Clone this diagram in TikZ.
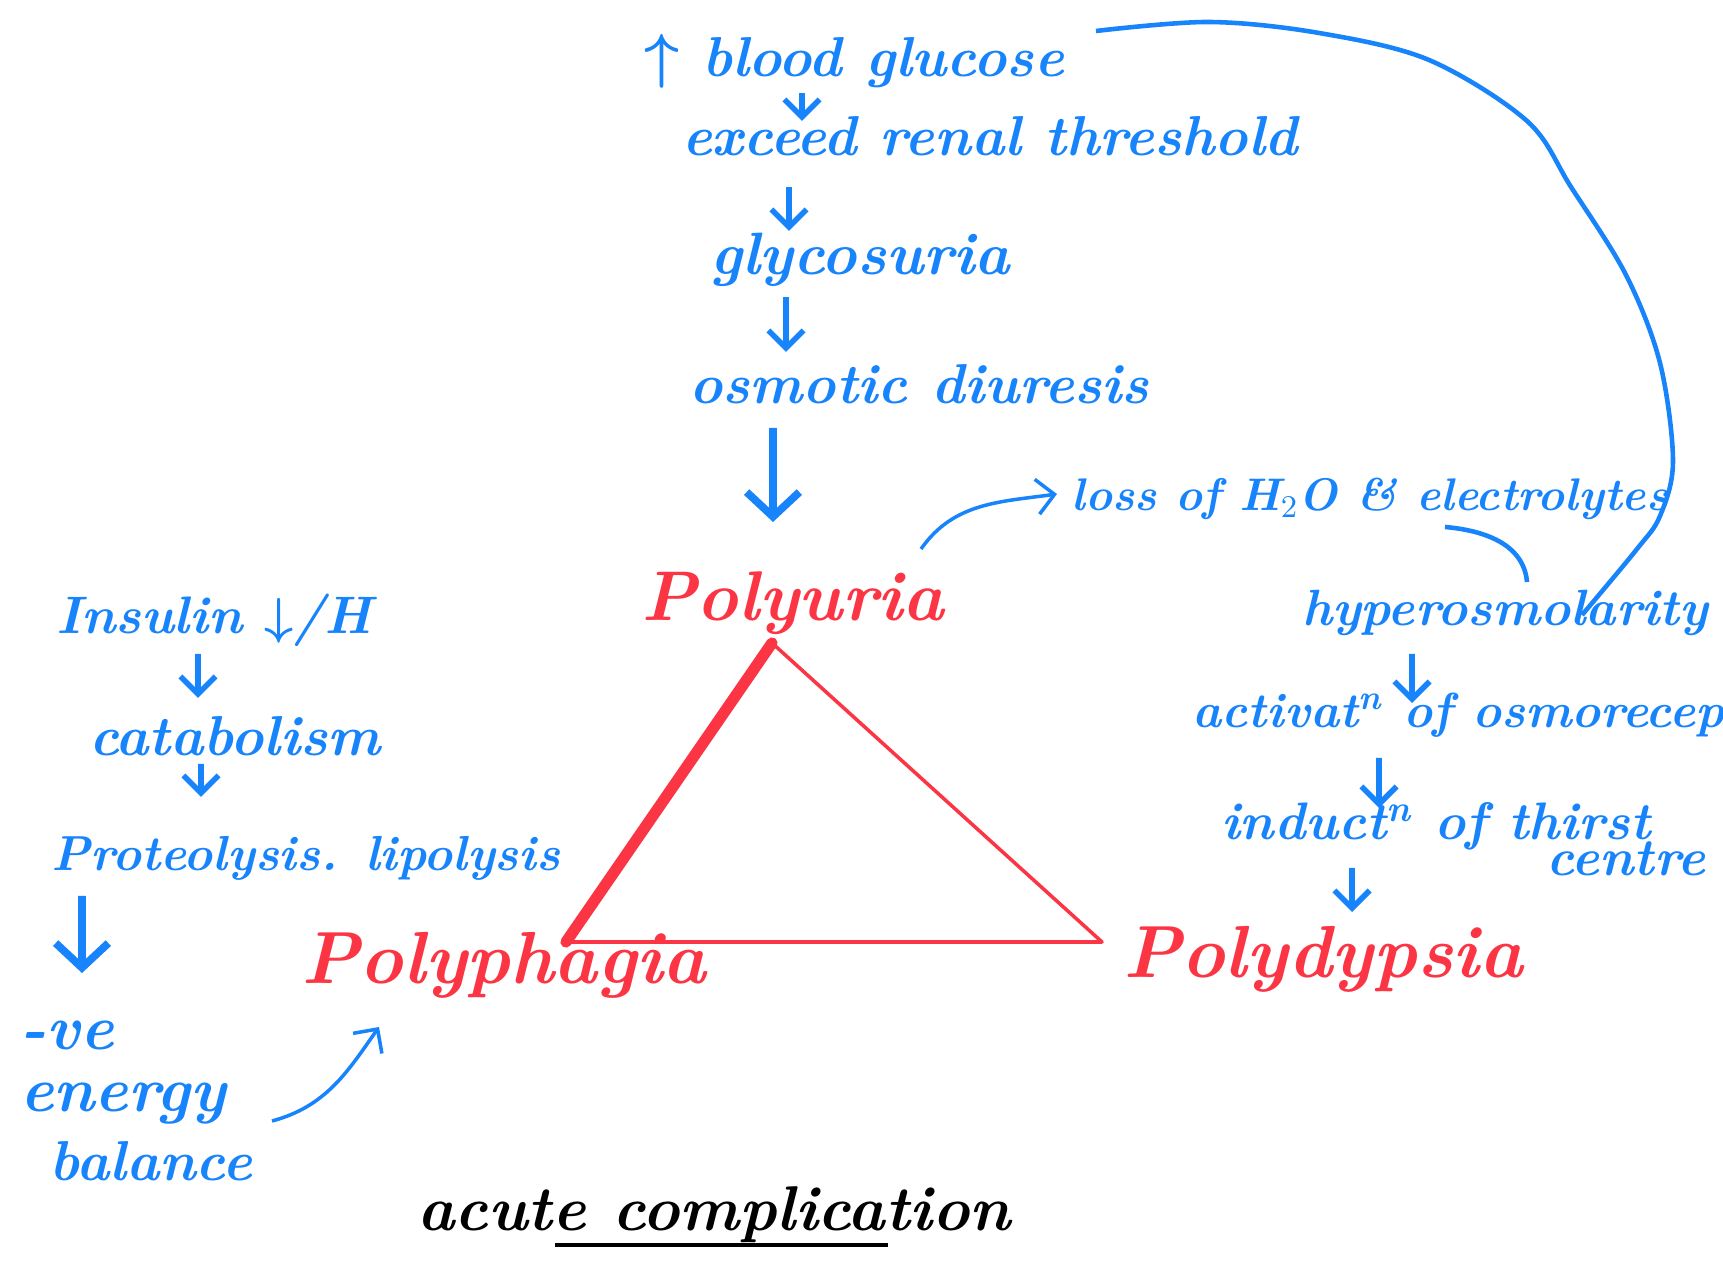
\documentclass[tikz,border=0pt]{standalone}
\usepackage{amsmath}
\usetikzlibrary{arrows.meta,positioning,calc}
\definecolor{pen}{HTML}{1784FB}
\definecolor{marker}{HTML}{FC3545}
\newcommand{\penfont}[1]{\fontsize{#1}{#1}\selectfont\bfseries\itshape}

\begin{document}
\begin{tikzpicture}[
    note/.style={text=pen, font=\penfont{16}, anchor=base, inner sep=0pt},
    sign/.style={text=marker, font=\penfont{21}, anchor=base, inner sep=0pt},
    title/.style={text=black, font=\penfont{18}, anchor=base, inner sep=0pt},
    arrow/.style={-{Straight Barb[length=5pt,width=10pt]}, draw=pen, line width=1.6pt},
    bigarrow/.style={-{Straight Barb[length=7pt,width=15pt]}, draw=pen, line width=2.2pt},
    link/.style={draw=pen, line width=1.3pt}
]
\useasboundingbox (0,0) rectangle (17.23,12.73);
\fill[white] (0,0) rectangle (17.23,12.73);
\clip (0,0) rectangle (17.23,12.73);

% kidney chain
\node[note] (bg) at (8.54,11.96) {$\boldsymbol{\uparrow}$ blood glucose};
\node[note] (rt) at (9.90,11.17) {exceed renal threshold};
\node[note, font=\penfont{17}] (gly) at (8.60,9.98) {glycosuria};
\node[note] (osm) at (9.19,8.69) {osmotic diuresis};

% thirst chain
\node[note, font=\penfont{13}] (loss) at (13.70,7.62) {loss of H$_2$O \& electrolytes};
\node[note, font=\penfont{14.5}] (hyp) at (15.05,6.47) {hyperosmolarity};
\node[note, font=\penfont{14}, anchor=base west] (act) at (11.92,5.45) {activat\textsuperscript{n} of osmoreceptor};
\node[note, font=\penfont{15}] (ind) at (14.36,4.33) {induct\textsuperscript{n} of thirst};
\node[note, font=\penfont{15}] (cen) at (16.26,3.97) {centre};

% hunger chain
\node[note, font=\penfont{15}] (ins) at (2.14,6.39) {Insulin $\boldsymbol{\downarrow}$/H};
\node[note] (cat) at (2.35,5.17) {catabolism};
\node[note, font=\penfont{14}] (prot) at (3.06,4.02) {Proteolysis. lipolysis};
\node[note, font=\penfont{18}] (ve) at (0.67,2.23) {-ve};
\node[note, font=\penfont{18}] (en) at (1.23,1.61) {energy};
\node[note] (bal) at (1.51,0.92) {balance};

% the three P's
\node[sign, font=\penfont{20}] (puria) at (7.93,6.52) {Polyuria};
\node[sign] (pdyp) at (13.23,2.95) {Polydypsia};
\node[sign] (pphag) at (5.04,2.89) {Polyphagia};

\node[title] (acute) at (7.14,0.42) {acute complication};
\draw[black, line width=0.9pt] ([shift={(-1.59,-0.14)}]acute.base) -- ([shift={(1.74,-0.14)}]acute.base);

% triangle
\coordinate (apex) at (7.72,6.30);
\coordinate (bl) at (5.66,3.31);
\coordinate (br) at (11.02,3.31);
\draw[marker, line width=1pt, line join=round] (apex) -- (br) -- (bl);
\draw[marker, line width=3.2pt, line cap=round] (bl) -- (apex);

\draw[arrow] ([shift={(-0.52,-0.16)}]bg.base) -- ([shift={(-1.88,0.35)}]rt.base);
\draw[arrow] ([shift={(-2.01,-0.31)}]rt.base) -- ([shift={(-0.71,0.44)}]gly.base);
\draw[arrow] ([shift={(-0.74,-0.22)}]gly.base) -- ([shift={(-1.33,0.52)}]osm.base);
\draw[bigarrow] ([shift={(-1.46,-0.24)}]osm.base) -- ([shift={(-0.20,0.99)}]puria.base);

\draw[-{Straight Barb[length=5pt,width=10pt]}, draw=pen, line width=1pt] ([shift={(1.28,0.72)}]puria.base) to[out=55,in=188] ([shift={(-3.13,0.17)}]loss.base);
\draw[link] ([shift={(0.75,-0.16)}]loss.base) to[out=-5,in=95] ([shift={(0.22,0.44)}]hyp.base);
\draw[link] plot[smooth, tension=0.55] coordinates {([shift={(2.42,0.46)}]bg.base) (12.09,12.51) (13.19,12.40) (14.29,12.13) (15.27,11.52) (15.71,10.86) (16.26,9.98) (16.60,9.10) (16.73,8.12) (16.60,7.57) (16.37,7.24) ([shift={(0.77,0.11)}]hyp.base)};

\draw[arrow] ([shift={(-0.93,-0.28)}]hyp.base) -- ([shift={(2.20,0.25)}]act.base west);
\draw[arrow] ([shift={(1.87,-0.30)}]act.base west) -- ([shift={(-0.57,0.32)}]ind.base);
\draw[arrow] ([shift={(-0.84,-0.28)}]ind.base) -- ([shift={(0.29,0.66)}]pdyp.base);

\draw[arrow] ([shift={(-0.16,-0.20)}]ins.base) -- ([shift={(-0.37,0.58)}]cat.base);
\draw[arrow] ([shift={(-0.34,-0.08)}]cat.base) -- ([shift={(-1.05,0.74)}]prot.base);
\draw[bigarrow] ([shift={(-2.24,-0.25)}]prot.base) -- ([shift={(0.15,0.77)}]ve.base);
\draw[-{Straight Barb[length=5pt,width=10pt]}, draw=pen, line width=1pt] ([shift={(1.21,0.60)}]bal.base) to[out=15,in=235] ([shift={(-1.25,-0.43)}]pphag.base);

\end{tikzpicture}
\end{document}
